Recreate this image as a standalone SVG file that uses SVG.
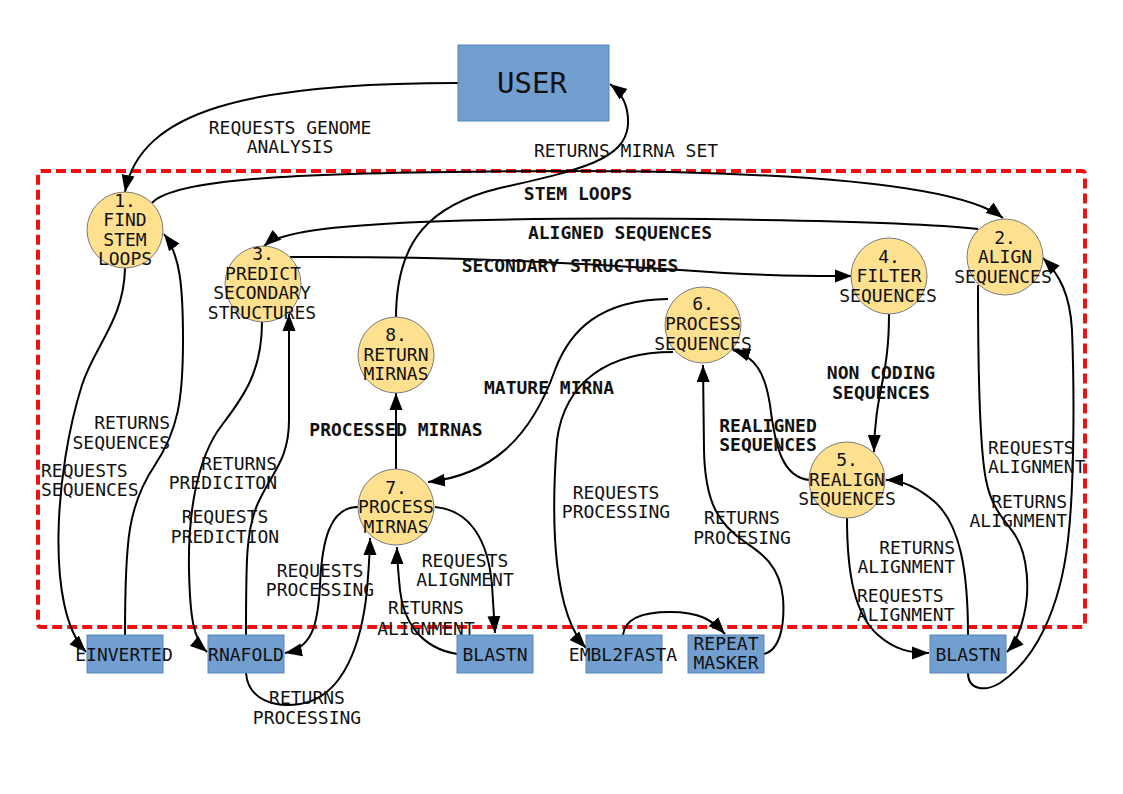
<svg xmlns="http://www.w3.org/2000/svg" width="1123" height="794" viewBox="0 0 1123 794">
<style>
.t{font-family:"DejaVu Sans Mono","Liberation Mono",monospace;font-size:18px;fill:#111}
.b{font-family:"DejaVu Sans Mono","Liberation Mono",monospace;font-size:18px;font-weight:bold;fill:#111}
.m{text-anchor:middle}
.e{text-anchor:end}
.c{fill:#fee08f;stroke:#7a7a7a;stroke-width:1}
.r{fill:#729fcf;stroke:#5b86b8;stroke-width:1}
.l{fill:none;stroke:#000;stroke-width:2;marker-end:url(#a)}
</style>
<defs>
<marker id="a" markerUnits="userSpaceOnUse" markerWidth="18" markerHeight="14" refX="17" refY="6.5" orient="auto" viewBox="0 0 18 13">
<path d="M0,0 L17,6.5 L0,13 z" fill="#000"/>
</marker>
</defs>
<rect width="1123" height="794" fill="#fff"/>
<rect id="boundary" x="38" y="171" width="1047" height="456" rx="3" fill="none" stroke="#ee1111" stroke-width="4" stroke-dasharray="10,5"/>
<g id="connectors">
<path class="l" d="M458,83 C250,83 140,110 125,192"/>
<path class="l" d="M152,203 C175,178 300,172 560,171 C800,171 960,185 1003,218"/>
<path class="l" d="M978,229 C900,220 600,215 420,222 C330,226 280,232 264,246"/>
<path class="l" d="M290,257 C450,256 560,262 680,270 C760,276 800,276 852,276"/>
<path class="l" d="M889,314 C889,380 875,390 874,452"/>
<path class="l" d="M810,480 C782,478 775,445 770,405 C765,372 755,357 733,350"/>
<path class="l" d="M668,299 C600,300 570,330 555,370 C530,440 490,475 428,482"/>
<path class="l" d="M396,469 L396,393"/>
<path class="l" d="M396,318 C396,240 430,205 500,188 C580,170 625,160 628,125 C629,105 622,93 610,84"/>
<path class="l" d="M125,268 C124,320 95,345 82,385 C55,470 45,610 86,652"/>
<path class="l" d="M125,635 C125,540 128,505 155,465 C178,430 183,400 183,340 C183,285 180,255 164,234"/>
<path class="l" d="M262,322 C262,370 245,395 222,425 C195,460 188,520 189,570 C190,615 193,640 207,652"/>
<path class="l" d="M246,635 C246,560 246,530 258,503 C272,472 289,460 289,420 L289,314"/>
<path class="l" d="M358,507 C330,507 322,540 320,585 C318,625 312,648 285,653"/>
<path class="l" d="M246,673 C248,700 275,708 300,704 C345,697 362,640 367,590 C369,565 370,552 370,538"/>
<path class="l" d="M435,507 C470,510 488,540 492,585 L495,633"/>
<path class="l" d="M457,654 C420,648 403,620 400,590 C398,570 397,560 397,547"/>
<path class="l" d="M673,352 C610,352 565,380 557,440 C550,530 555,615 586,648"/>
<path class="l" d="M623,635 C625,615 650,612 670,612 C700,612 712,620 725,634"/>
<path class="l" d="M764,654 C780,650 785,625 783,598 C780,565 760,552 745,542 C720,525 705,505 704,450 L703,365"/>
<path class="l" d="M847,518 C847,575 855,615 878,635 C895,650 910,653 929,653"/>
<path class="l" d="M968,635 C968,570 960,525 935,502 C915,485 900,480 886,480"/>
<path class="l" d="M978,285 C978,380 980,450 986,480 C992,510 1005,520 1015,535 C1028,555 1030,590 1024,615 C1020,632 1014,645 1007,652"/>
<path class="l" d="M968,673 C968,690 985,692 1000,683 C1035,660 1060,610 1068,540 C1075,480 1074,380 1072,330 C1070,295 1060,275 1043,258"/>
</g>
<g id="labels">
<text class="t m" x="290" y="133.5">REQUESTS GENOME</text>
<text class="t m" x="290" y="152.5">ANALYSIS</text>
<text class="t m" x="626" y="156.5">RETURNS MIRNA SET</text>
<text class="b m" x="578" y="199.5">STEM LOOPS</text>
<text class="b m" x="620" y="238.5">ALIGNED SEQUENCES</text>
<text class="b m" x="570" y="271.5">SECONDARY STRUCTURES</text>
<text class="b m" x="881" y="378.5">NON CODING</text>
<text class="b m" x="881" y="398.5">SEQUENCES</text>
<text class="b m" x="768" y="431.5">REALIGNED</text>
<text class="b m" x="768" y="450.5">SEQUENCES</text>
<text class="b m" x="549" y="393.5">MATURE MIRNA</text>
<text class="b m" x="396" y="435.5">PROCESSED MIRNAS</text>
<text class="t e" x="170" y="428.5">RETURNS</text>
<text class="t e" x="170" y="448.5">SEQUENCES</text>
<text class="t" x="41" y="476.5">REQUESTS</text>
<text class="t" x="41" y="495.5">SEQUENCES</text>
<text class="t e" x="277" y="469.5">RETURNS</text>
<text class="t e" x="277" y="488.5">PREDICITON</text>
<text class="t m" x="225" y="522.5">REQUESTS</text>
<text class="t m" x="225" y="542.5">PREDICTION</text>
<text class="t m" x="320" y="576.5">REQUESTS</text>
<text class="t m" x="320" y="595.5">PROCESSING</text>
<text class="t m" x="307" y="703.5">RETURNS</text>
<text class="t m" x="307" y="723.5">PROCESSING</text>
<text class="t m" x="465" y="566.5">REQUESTS</text>
<text class="t m" x="465" y="585.5">ALIGNMENT</text>
<text class="t m" x="426" y="613.5">RETURNS</text>
<text class="t m" x="426" y="634.5">ALIGNMENT</text>
<text class="t m" x="616" y="498.5">REQUESTS</text>
<text class="t m" x="616" y="517.5">PROCESSING</text>
<text class="t m" x="742" y="523.5">RETURNS</text>
<text class="t m" x="742" y="543.5">PROCESING</text>
<text class="t" x="857" y="601.5">REQUESTS</text>
<text class="t" x="857" y="620.5">ALIGNMENT</text>
<text class="t e" x="955" y="553.5">RETURNS</text>
<text class="t e" x="955" y="572.5">ALIGNMENT</text>
<text class="t" x="988" y="453.5">REQUESTS</text>
<text class="t" x="988" y="472.5">ALIGNMENT</text>
<text class="t e" x="1067" y="507.5">RETURNS</text>
<text class="t e" x="1067" y="526.5">ALIGNMENT</text>
</g>
<g id="user">
<rect class="r" x="458" y="45" width="151" height="76"/>
<text class="t m" x="532" y="92.5" style="font-size:29px">USER</text>
</g>
<g id="n1">
<circle class="c" cx="125" cy="230" r="38"/>
<text class="t m" x="125" y="207">1.</text>
<text class="t m" x="125" y="226">FIND</text>
<text class="t m" x="125" y="245.5">STEM</text>
<text class="t m" x="125" y="264.5">LOOPS</text>
</g>
<g id="n2">
<circle class="c" cx="1005" cy="257" r="38"/>
<text class="t m" x="1005" y="244">2.</text>
<text class="t m" x="1005" y="263">ALIGN</text>
<text class="t m" x="1003" y="282.5">SEQUENCES</text>
</g>
<g id="n3">
<circle class="c" cx="263" cy="284" r="38"/>
<text class="t m" x="263" y="260">3.</text>
<text class="t m" x="263" y="279.5">PREDICT</text>
<text class="t m" x="262" y="299">SECONDARY</text>
<text class="t m" x="262" y="318.5">STRUCTURES</text>
</g>
<g id="n4">
<circle class="c" cx="889" cy="276" r="38"/>
<text class="t m" x="889" y="262.5">4.</text>
<text class="t m" x="889" y="282">FILTER</text>
<text class="t m" x="888" y="301.5">SEQUENCES</text>
</g>
<g id="n5">
<circle class="c" cx="847" cy="480" r="38"/>
<text class="t m" x="847" y="466">5.</text>
<text class="t m" x="847" y="485.5">REALIGN</text>
<text class="t m" x="847" y="505">SEQUENCES</text>
</g>
<g id="n6">
<circle class="c" cx="703" cy="325" r="38"/>
<text class="t m" x="703" y="309.5">6.</text>
<text class="t m" x="703" y="329.5">PROCESS</text>
<text class="t m" x="703" y="349.5">SEQUENCES</text>
</g>
<g id="n7">
<circle class="c" cx="396" cy="507" r="38"/>
<text class="t m" x="396" y="493.5">7.</text>
<text class="t m" x="396" y="513">PROCESS</text>
<text class="t m" x="396" y="532.5">MIRNAS</text>
</g>
<g id="n8">
<circle class="c" cx="396" cy="355" r="38"/>
<text class="t m" x="396" y="341">8.</text>
<text class="t m" x="396" y="360.5">RETURN</text>
<text class="t m" x="396" y="380">MIRNAS</text>
</g>
<g id="einverted">
<rect class="r" x="87" y="635" width="76" height="38"/>
<text class="t m" x="124" y="660.5">EINVERTED</text>
</g>
<g id="rnafold">
<rect class="r" x="208" y="635" width="76" height="38"/>
<text class="t m" x="246" y="660.5">RNAFOLD</text>
</g>
<g id="blastn1">
<rect class="r" x="457" y="635" width="76" height="38"/>
<text class="t m" x="495" y="660.5">BLASTN</text>
</g>
<g id="embl2fasta">
<rect class="r" x="586" y="635" width="76" height="38"/>
<text class="t m" x="623" y="660.5">EMBL2FASTA</text>
</g>
<g id="repeatmasker">
<rect class="r" x="688" y="635" width="76" height="38"/>
<text class="t m" x="726" y="649.5">REPEAT</text>
<text class="t m" x="726" y="668.5">MASKER</text>
</g>
<g id="blastn2">
<rect class="r" x="930" y="635" width="76" height="38"/>
<text class="t m" x="968" y="660.5">BLASTN</text>
</g>
</svg>
